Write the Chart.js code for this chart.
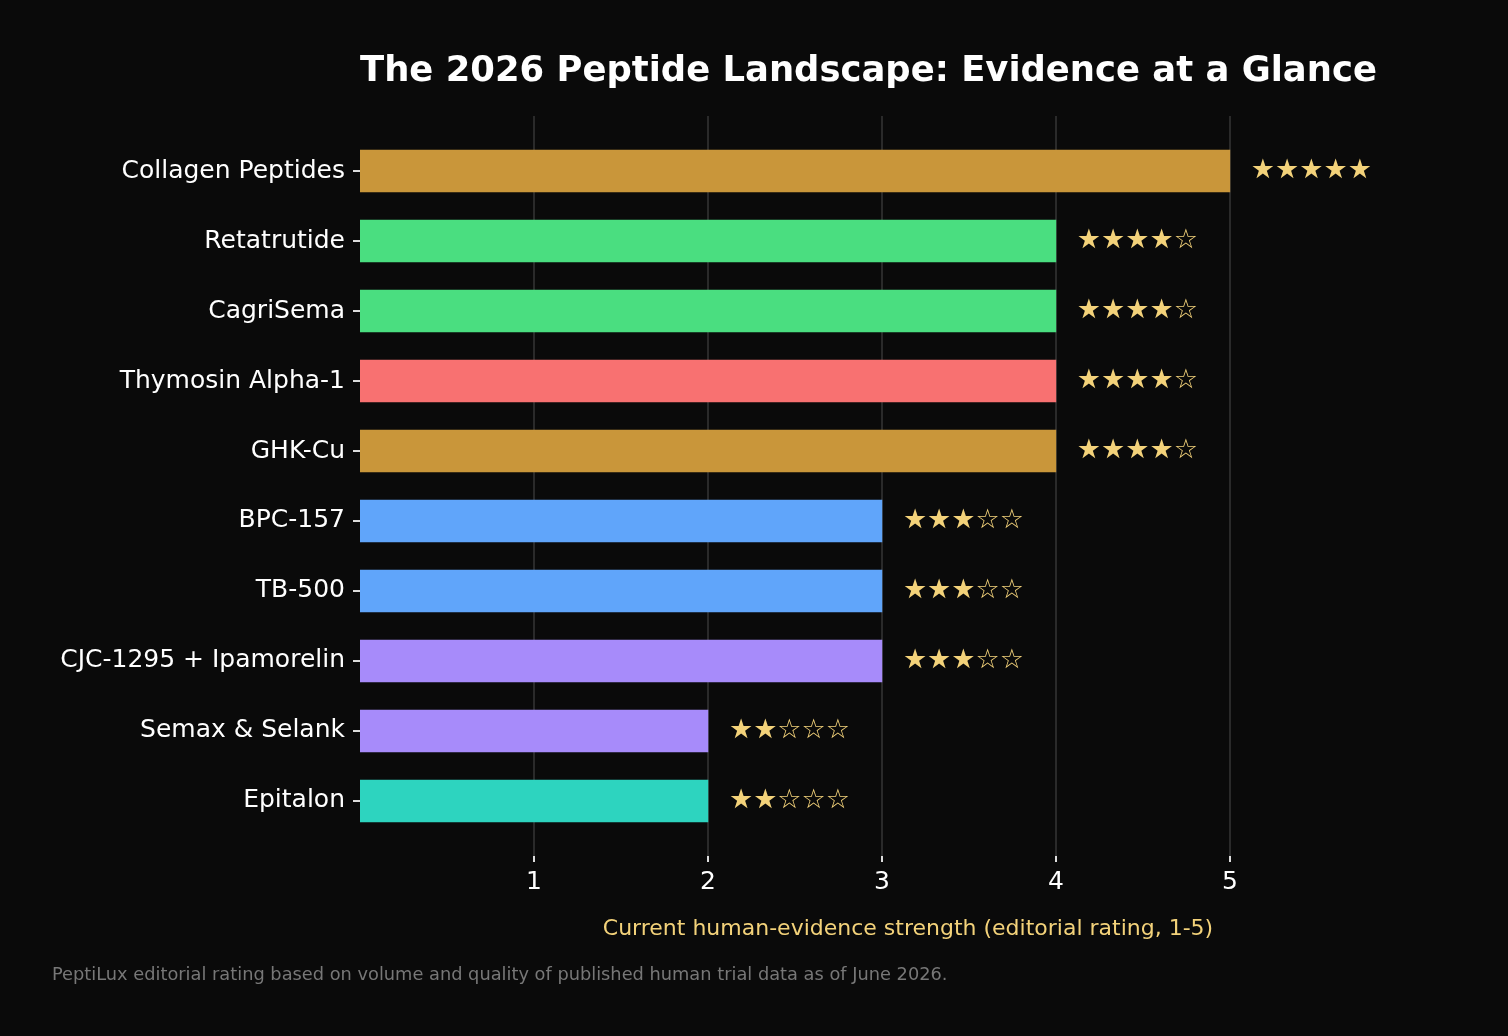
<!DOCTYPE html>
<html>
<head>
<meta charset="utf-8">
<script src="https://cdn.jsdelivr.net/npm/chart.js@4.4.1/dist/chart.umd.min.js"></script>
<style>
  html, body { margin: 0; padding: 0; background: #0a0a0a; }
  #wrap { width: 1508px; height: 1036px; position: relative; }
</style>
</head>
<body>
<div id="wrap"><canvas id="peptideChart"></canvas></div>
<script>
  const peptides = ['Collagen Peptides', 'Retatrutide', 'CagriSema', 'Thymosin Alpha-1', 'GHK-Cu',
    'BPC-157', 'TB-500', 'CJC-1295 + Ipamorelin', 'Semax & Selank', 'Epitalon'];
  const ratings = [5, 4, 4, 4, 4, 3, 3, 3, 2, 2];
  const xTicks = [1, 2, 3, 4, 5];

  const barColors = ['#c9963a', '#4ade80', '#4ade80', '#f87171', '#c9963a',
    '#60a5fa', '#60a5fa', '#a78bfa', '#a78bfa', '#2dd4bf'];

  const FONT = 'DejaVu Sans';

  function stars(r) {
    return '★'.repeat(r) + '☆'.repeat(5 - r);
  }

  // stars after each bar + title, axis label, footnote
  const textPlugin = {
    id: 'textPlugin',
    afterDatasetsDraw(chart) {
      const ctx = chart.ctx;
      const meta = chart.getDatasetMeta(0);
      ctx.save();
      ctx.fillStyle = '#f3d27a';
      ctx.font = '27px ' + FONT;
      ctx.textBaseline = 'middle';
      ctx.textAlign = 'left';
      meta.data.forEach(function(bar, i) {
        ctx.fillText(stars(ratings[i]), bar.x + 21, bar.y);
      });
      ctx.restore();
    },
    afterDraw(chart) {
      const ctx = chart.ctx;
      const area = chart.chartArea;
      ctx.save();
      ctx.textBaseline = 'alphabetic';
      ctx.fillStyle = '#ffffff';
      ctx.font = 'bold 35.4px ' + FONT;
      ctx.textAlign = 'left';
      ctx.fillText('The 2026 Peptide Landscape: Evidence at a Glance', area.left, 81);

      ctx.fillStyle = '#f3d27a';
      ctx.font = '22px ' + FONT;
      ctx.textAlign = 'center';
      ctx.fillText('Current human-evidence strength (editorial rating, 1-5)', (area.left + area.right) / 2, 935);

      ctx.fillStyle = '#777777';
      ctx.font = '17.8px ' + FONT;
      ctx.textAlign = 'left';
      ctx.fillText('PeptiLux editorial rating based on volume and quality of published human trial data as of June 2026.', 52, 980);
      ctx.restore();
    }
  };

  const config = {
    type: 'bar',
    data: {
      datasets: [{
        data: ratings.map(function(r, i) { return { x: r, y: i }; }),
        backgroundColor: barColors,
        borderWidth: 0,
        barThickness: 42
      }]
    },
    options: {
      indexAxis: 'y',
      responsive: true,
      maintainAspectRatio: false,
      animation: false,
      layout: { padding: { left: 0, right: 52, top: 116, bottom: 0 } },
      plugins: {
        legend: { display: false },
        tooltip: { enabled: false }
      },
      scales: {
        x: {
          type: 'linear',
          min: 0,
          max: 6.3,
          afterBuildTicks: function(scale) {
            scale.ticks = xTicks.map(function(v) { return { value: v }; });
          },
          afterFit: function(scale) { scale.height = 180; },
          border: { display: false },
          grid: { color: '#2a2a2a', lineWidth: 2, tickColor: '#dddddd', tickLength: 6, drawTicks: true },
          ticks: { color: '#ffffff', font: { family: FONT, size: 25 }, padding: 5 }
        },
        y: {
          type: 'linear',
          reverse: true,
          offset: false,
          min: -0.786,
          max: 9.786,
          afterBuildTicks: function(scale) {
            scale.ticks = peptides.map(function(_, i) { return { value: i }; });
          },
          afterFit: function(scale) { scale.width = 360; },
          border: { display: false },
          grid: { offset: false, drawOnChartArea: false, tickColor: '#dddddd', tickLength: 7, lineWidth: 2 },
          ticks: {
            color: '#ffffff',
            font: { family: FONT, size: 25 },
            padding: 8,
            callback: function(value) { return peptides[value]; }
          }
        }
      }
    },
    plugins: [textPlugin]
  };

  window.onload = function() {
    const ctx = document.getElementById('peptideChart').getContext('2d');
    new Chart(ctx, config);
  };
</script>
</body>
</html>
